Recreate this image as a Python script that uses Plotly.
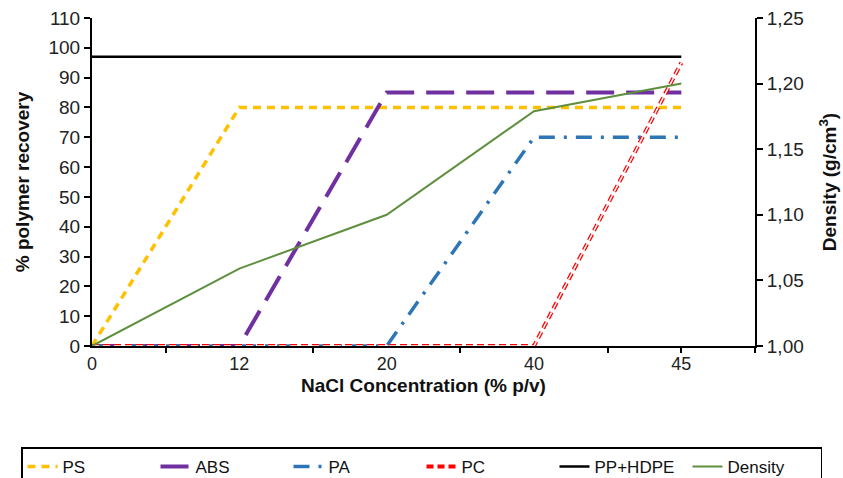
import plotly.graph_objects as go

categories = ["0", "12", "20", "40", "45"]
ps = [0, 80, 80, 80, 80]
abs_ = [0, 0, 85, 85, 85]
pa = [0, 0, 0, 70, 70]
pc = [0, 0, 0, 0, 95]
pp_hdpe = [97, 97, 97, 97, 97]
density = [1.00, 1.059, 1.10, 1.179, 1.20]

x = list(range(len(categories)))
FONT = "Liberation Sans, Arial, sans-serif"
W, H = 843, 478

fig = go.Figure()
fig.add_trace(go.Scatter(x=x, y=ps, name="PS", mode="lines",
                         line=dict(color="#FFC000", width=3.5, dash="8px,6px")))
fig.add_trace(go.Scatter(x=x, y=abs_, name="ABS", mode="lines",
                         line=dict(color="#7030A0", width=4, dash="28px,12px")))
fig.add_trace(go.Scatter(x=x, y=pa, name="PA", mode="lines",
                         line=dict(color="#2E75B6", width=3.5, dash="16px,9px,3px,9px")))
fig.add_trace(go.Scatter(x=x, y=pc, name="PC", mode="lines",
                         line=dict(color="#FF0000", width=4, dash="7px,4px")))
fig.add_trace(go.Scatter(x=x, y=pc, name="PC", mode="lines", showlegend=False,
                         hoverinfo="skip",
                         line=dict(color="#FFFFFF", width=1.5, dash="7px,4px")))
fig.add_trace(go.Scatter(x=x, y=pp_hdpe, name="PP+HDPE", mode="lines",
                         line=dict(color="#000000", width=2.5)))
fig.add_trace(go.Scatter(x=x, y=density, name="Density", mode="lines", yaxis="y2",
                         line=dict(color="#5E8F3E", width=2)))

fig.update_layout(
    width=W, height=H,
    margin=dict(l=0, r=0, t=18, b=132, autoexpand=False),
    plot_bgcolor="white", paper_bgcolor="white",
    separators=",.",
    font=dict(family=FONT, size=18, color="#222222"),
    showlegend=True,
    xaxis=dict(
        domain=[92 / W, 755 / W],
        range=[0, 4.5], tickmode="array", tickvals=x, ticktext=categories,
        ticks="", showgrid=False, zeroline=False,
        showline=True, linecolor="black", linewidth=2,
        tickfont=dict(size=18, color="#222222"),
        minor=dict(tickmode="array", tickvals=[0.5, 1.5, 2.5, 3.5, 4, 4.5],
                   ticks="outside", ticklen=5, tickwidth=2, tickcolor="black"),
        title=dict(text="<b>NaCl Concentration (% p/v)</b>", font=dict(size=19, color="#111111"), standoff=6),
    ),
    yaxis=dict(
        range=[0, 110], tickmode="array", tickvals=list(range(0, 111, 10)),
        ticks="outside", ticklen=6, tickwidth=2, tickcolor="black",
        showgrid=False, zeroline=False,
        showline=True, linecolor="black", linewidth=2,
        tickfont=dict(size=19, color="#222222"),
        title=dict(text="<b>% polymer recovery</b>", font=dict(size=19, color="#111111"), standoff=14),
    ),
    yaxis2=dict(
        range=[1.00, 1.25], overlaying="y", side="right",
        tickmode="array", tickvals=[1.00, 1.05, 1.10, 1.15, 1.20, 1.25],
        tickformat=".2f",
        ticks="outside", ticklen=6, tickwidth=2, tickcolor="black",
        showgrid=False, zeroline=False,
        showline=True, linecolor="black", linewidth=2,
        tickfont=dict(size=19, color="#222222"),
        title=dict(text="<b>Density (g/cm<sup>3</sup>)</b>", font=dict(size=19, color="#111111"), standoff=20),
    ),
    legend=dict(
        orientation="h", x=0.5, xanchor="center", xref="container",
        y=0.064, yanchor="top", yref="container",
        bordercolor="black", borderwidth=1.5,
        font=dict(size=17, color="#111111"),
        tracegroupgap=0, entrywidth=88, entrywidthmode="pixels",
    ),
)

fig.write_html("out.html")
